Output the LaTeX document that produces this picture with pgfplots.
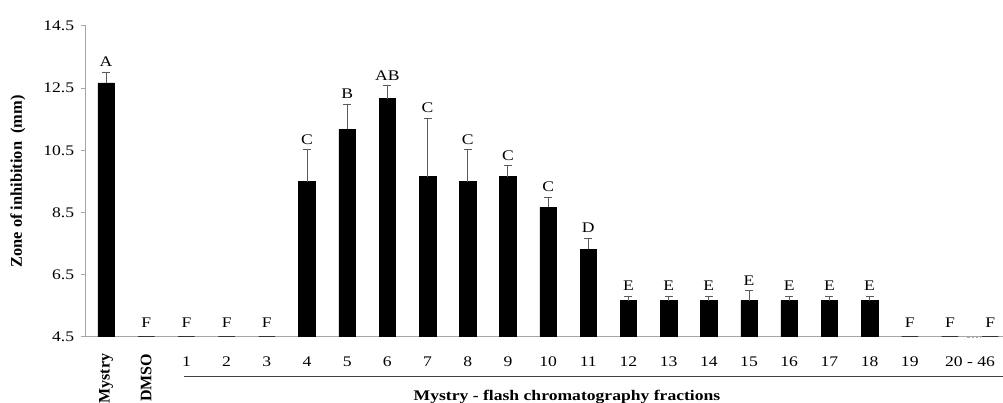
\documentclass[border=0pt]{standalone}
\usepackage{fontspec}
\setmainfont{Liberation Serif}[FakeStretch=1.2]
\newfontfamily\plainserif{Liberation Serif}
\usepackage{pgfplots}
\pgfplotsset{compat=1.18}
\definecolor{axisgray}{HTML}{A6A6A6}
\definecolor{errgray}{HTML}{5A5A5A}
\definecolor{ulgray}{HTML}{404040}
\pgfplotstableread{
x y err
0 12.67 0.35
5 9.49 1.04
6 11.17 0.82
7 12.16 0.43
8 9.65 1.88
9 9.49 1.04
10 9.65 0.35
11 8.66 0.33
12 7.31 0.36
13 5.66 0.15
14 5.66 0.15
15 5.66 0.15
16 5.66 0.32
17 5.66 0.15
18 5.66 0.15
19 5.66 0.15
}\barsdata
\pgfplotstableread{
x y
1 4.5
2 4.5
3 4.5
4 4.5
20 4.5
21 4.5
22 4.5
}\zerodata
\pgfplotstableread{
x y lab
0 13.02 A
1 4.63 F
2 4.63 F
3 4.63 F
4 4.63 F
5 10.53 C
6 11.99 B
7 12.59 AB
8 11.53 C
9 10.53 C
10 10.00 C
11 8.99 C
12 7.67 D
13 5.81 E
14 5.81 E
15 5.81 E
16 5.98 E
17 5.81 E
18 5.81 E
19 5.81 E
20 4.63 F
21 4.63 F
22 4.63 F
}\labdata
\newcommand{\rotlab}[1]{\raisebox{2.5pt}[\height][\depth]{\rotatebox{90}{\plainserif\bfseries\fontsize{12}{13}\selectfont #1}}}
\begin{document}
\fontsize{11}{13}\selectfont
\begin{tikzpicture}
\begin{axis}[
  scale only axis, width=687.75pt, height=233pt,
  xmin=-0.5, xmax=22.32, ymin=4.5, ymax=14.5,
  axis x line*=bottom, axis y line*=left,
  axis line style={draw=axisgray, line width=0.75pt},
  ytick={4.5,6.5,8.5,10.5,12.5,14.5},
  yticklabels={4.5,6.5,8.5,10.5,12.5,14.5},
  ytick style={draw=axisgray, line width=0.75pt},
  tick align=outside, major tick length=3.5pt,
  xtick={0,1,2,3,4,5,6,7,8,9,10,11,12,13,14,15,16,17,18,19,20,21.5},
  xticklabels={\rotlab{Mystry},\rotlab{DMSO},1,2,3,4,5,6,7,8,9,10,11,12,13,14,15,16,17,18,19,20 - 46},
  xtick style={draw=none},
  tick label style={font=\fontsize{11}{13}\selectfont},
  xticklabel style={yshift=-8pt},
  yticklabel style={xshift=-1.5pt},
  ylabel={\textbf{Zone of inhibition\ \ (mm)}},
  ylabel style={at={(rel axis cs:-0.0742,0.5)}, anchor=center, font=\plainserif\fontsize{12.3}{14}\selectfont},
]
\addplot[ybar, bar width=12.4pt, fill=black, draw=black,
  error bars/.cd, y dir=plus, y explicit,
  error bar style={errgray, line width=0.7pt},
  error mark options={rotate=90, mark size=3pt, errgray, line width=0.7pt}]
  table[x=x, y=y, y error=err] {\barsdata};
\addplot[ybar, bar width=12.4pt, fill=black, draw=black!80, line width=0.9pt]
  table[x=x, y=y] {\zerodata};
\addplot[draw=none, mark=none, nodes near coords, point meta=explicit symbolic,
  nodes near coords style={anchor=south, font=\fontsize{11}{13}\selectfont, text=black}]
  table[x=x, y=y, meta=lab] {\labdata};
\coordinate (O) at (rel axis cs:0,0);
\coordinate (U1) at (axis cs:1.93,4.5);
\coordinate (XL) at (axis cs:11.47,4.5);
\coordinate (D1) at (axis cs:21.43,4.5);
\coordinate (D2) at (axis cs:21.75,4.5);
\end{axis}
\draw[ulgray, line width=0.8pt] ([yshift=-30pt]U1) -- ([shift={(687.75pt,-30pt)}]O);
\node[font=\bfseries\fontsize{11}{13}\selectfont] at ([yshift=-45.5pt]XL) {Mystry - flash chromatography fractions};
\draw[axisgray, line width=0.75pt, dash pattern=on 2pt off 1.2pt] ([yshift=-0.6pt]D1) -- ([yshift=-0.6pt]D2);
\pgfresetboundingbox
\path ([shift={(-64.5pt,-49.7pt)}]O) rectangle ([shift={(687.75pt,252.5pt)}]O);
\end{tikzpicture}
\end{document}
